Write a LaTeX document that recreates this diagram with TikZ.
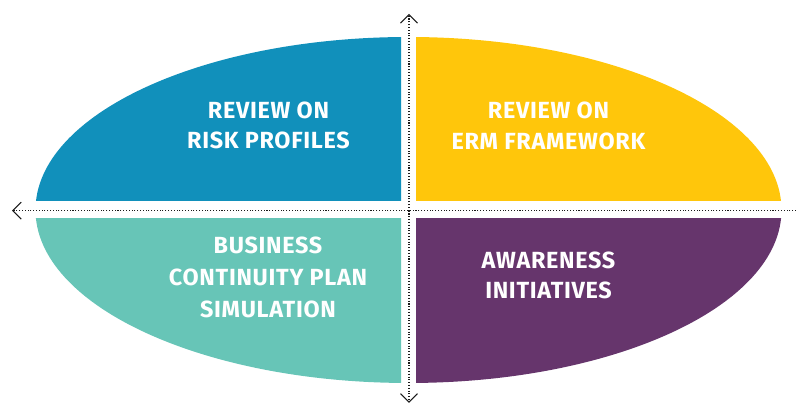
\documentclass[tikz,border=0pt]{standalone}
\usepackage{fontspec}
\usepackage{tikz}
\usetikzlibrary{arrows.meta,positioning}
\newfontfamily\labelfont[LetterSpace=3]{Fira Sans}
\definecolor{riskblue}{HTML}{1190BB}
\definecolor{ermgold}{HTML}{FFC60B}
\definecolor{bcpteal}{HTML}{67C5B7}
\definecolor{awplum}{HTML}{66356C}
\definecolor{ink}{HTML}{1A1A1A}

\begin{document}
\begin{tikzpicture}[x=0.02cm,y=0.02cm,
  quadlabel/.style={white,align=center,font=\labelfont\bfseries\fontsize{13.3}{17.4}\selectfont},
  axis/.style={ink,line width=.6pt,densely dotted,-{Straight Barb[length=0.17cm,width=0.34cm,line width=.6pt]}}]
\useasboundingbox (0,0) rectangle (796,404);
% the ellipse, cut into four quarters with a gap between them
\foreach \xa/\xb/\ya/\yb/\col in {0/401/203.5/404/riskblue, 416/796/203.5/404/ermgold,
                                 0/401/0/185/bcpteal, 416/796/0/185/awplum}{
  \begin{scope}
    \clip (\xa,\ya) rectangle (\xb,\yb);
    \fill[\col] (408.5,194) ellipse (373 and 173);
  \end{scope}
}
% axes
\coordinate (top) at (409,390);
\coordinate (bottom) at (409,1);
\coordinate (left) at (12,193.3);
\coordinate (right) at (796,193.3);
\coordinate (origin) at (409,193.3);
\draw[axis] (origin) -- (top);
\draw[axis] (origin) -- (bottom);
\draw[axis] (right) -- (left);
% labels
\node[quadlabel] (riskprofiles) at (268.5,278.5) {REVIEW ON\\RISK PROFILES};
\node[quadlabel] (ermframe) at (548.5,278) {REVIEW ON\\ERM FRAMEWORK};
\node[quadlabel,font=\labelfont\bfseries\fontsize{13.3}{18.4}\selectfont] (bcpsim) at (268,126.5) {BUSINESS\\CONTINUITY PLAN\\SIMULATION};
\node[quadlabel,font=\labelfont\bfseries\fontsize{13.3}{17}\selectfont] (awareness) at (548.5,128.5) {AWARENESS\\INITIATIVES};
\end{tikzpicture}
\end{document}
